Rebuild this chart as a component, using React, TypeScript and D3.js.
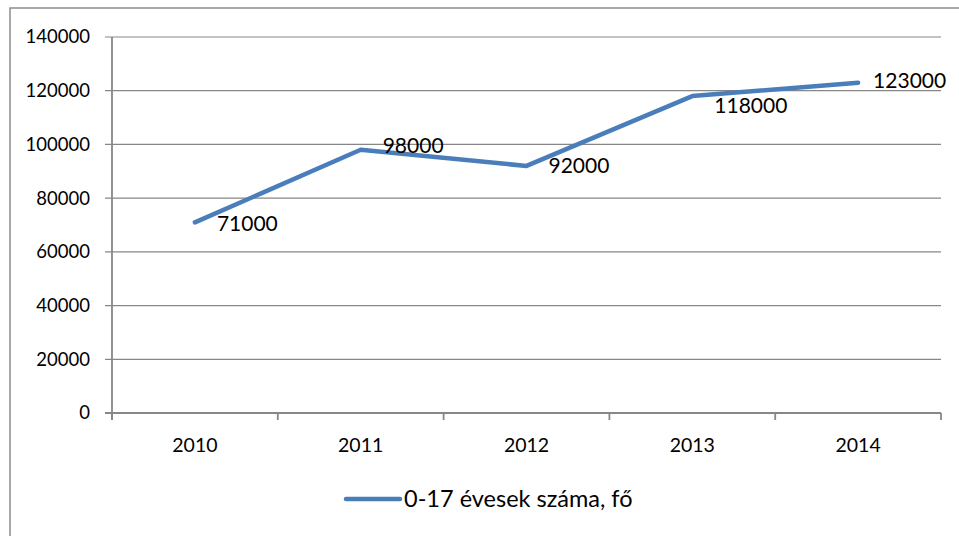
import React from "react";
import * as d3 from "d3";

const categories = ["2010", "2011", "2012", "2013", "2014"];
const values = [71000, 98000, 92000, 118000, 123000];
const yTicks = [0, 20000, 40000, 60000, 80000, 100000, 120000, 140000];
const seriesName = "0-17 évesek száma, fő";

const W = 959;
const H = 536;
const FONT = "Lato, 'Open Sans', sans-serif";
// data-label nudges (styling, in px)
const labelNudgeY = [1, -4, 0, 10, -2];
const labelNudgeX = [0, 0, 0, 0, -7];

export default function App() {
  const left = 112, right = 941, top = 37, bottom = 413;
  const xBand = d3.scaleBand<string>().domain(categories).range([left, right]).padding(0);
  const x = (c: string) => (xBand(c) as number) + xBand.bandwidth() / 2;
  const y = d3.scaleLinear().domain([0, 140000]).range([bottom, top]);
  const line = d3.line<number>().x((_, i) => x(categories[i])).y((v) => y(v));
  const grid = "#878787";
  const blue = "#4A7EBB";
  const catEdges = categories.map((c) => xBand(c) as number).concat([right]);

  return (
    <svg width={W} height={H} style={{ position: "absolute", left: 0, top: 0, background: "#fff" }}>
      <rect x={10} y={8} width={980} height={560} fill="#fff" stroke="#8c8c8c" strokeWidth={1.5} />
      {yTicks.map((t) => (
        <g key={t}>
          <line x1={105} x2={right} y1={y(t)} y2={y(t)} stroke={grid} strokeWidth={t === 0 ? 1.8 : 1.2} />
          <text x={90} y={y(t)} dy="0.35em" textAnchor="end" fontFamily={FONT} fontSize={18.5} fill="#000">
            {t}
          </text>
        </g>
      ))}
      <line x1={left} x2={left} y1={top} y2={bottom + 7} stroke={grid} strokeWidth={1.8} />
      {catEdges.map((e, i) => (
        <line key={i} x1={e} x2={e} y1={bottom} y2={bottom + 7} stroke={grid} strokeWidth={1.8} />
      ))}
      {categories.map((c) => (
        <text key={c} x={x(c)} y={445} dy="0.35em" textAnchor="middle" fontFamily={FONT} fontSize={19.5} fill="#000">
          {c}
        </text>
      ))}
      <path d={line(values) as string} fill="none" stroke={blue} strokeWidth={4.5} strokeLinecap="round" strokeLinejoin="round" />
      {values.map((v, i) => (
        <text key={i} x={x(categories[i]) + 22 + labelNudgeX[i]} y={y(v) + labelNudgeY[i]} dy="0.35em" fontFamily={FONT} fontSize={21} fill="#000">
          {v}
        </text>
      ))}
      <line x1={346} x2={400} y1={499} y2={499} stroke={blue} strokeWidth={4.5} strokeLinecap="round" />
      <text x={404} y={499} dy="0.35em" fontFamily={FONT} fontSize={23.5} fill="#000">
        {seriesName}
      </text>
    </svg>
  );
}
